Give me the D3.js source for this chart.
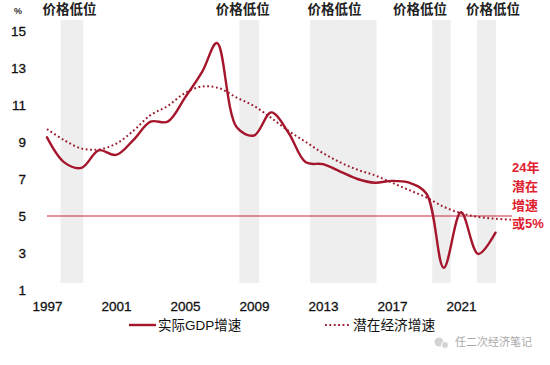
<!DOCTYPE html>
<html>
<head>
<meta charset="utf-8">
<script src="https://cdn.jsdelivr.net/npm/d3@7"></script>
<style>
  html, body { margin: 0; padding: 0; background: #fff; }
  svg { display: block; font-family: "Liberation Sans", "Noto Sans CJK SC", sans-serif; }
</style>
</head>
<body>
<svg id="chart"></svg>
<script>
// values
const gdp_years = [1997,1998,1999,2000,2001,2002,2003,2004,2005,2006,2006.85,2008,2009,2010,2011,2012,2013,2014,2015,2016,2017,2018,2019,2020,2021,2022,2023];
const gdp_values = [9.25,7.9,7.6,8.55,8.3,9.1,10.1,10.1,11.4,12.8,14.35,9.8,9.35,10.6,9.5,7.9,7.8,7.4,7.0,6.8,6.9,6.8,6.2,2.2,5.2,2.95,4.1];
const potential_years = [1997,1998,1999,2000,2001,2002,2003,2004,2005,2006,2007,2008,2009,2010,2011,2012,2013,2014,2015,2016,2017,2018,2019,2020,2021,2022,2023,2024];
const potential_values = [9.7,9.1,8.65,8.6,8.9,9.6,10.45,10.95,11.65,12.0,11.9,11.4,10.95,10.3,9.6,9.0,8.4,7.9,7.5,7.2,6.8,6.4,6.0,5.5,5.15,4.95,4.85,4.8];
const low_price_bands = [[1997.78,1999.1],[2008.15,2009.3],[2012.25,2016.1],[2019.33,2020.4],[2021.93,2023.03]];
const low_price_label_years = [1998.3,2008.35,2013.67,2018.62,2022.86];
const low_price_label = "价格低位";
const y_ticks = [1,3,5,7,9,11,13,15];
const x_ticks = [1997,2001,2005,2009,2013,2017,2021];
const trend_level = 5;
const trend_note = ["24年","潜在","增速","或5%"];

const width = 550, height = 365;
const svg = d3.select("#chart").attr("width", width).attr("height", height);

const x = d3.scaleLinear().domain([1997, 2021]).range([47, 461]);
const y = d3.scaleLinear().domain([1, 15]).range([290, 31]);

// grey bands go behind everything
svg.append("g").selectAll("rect").data(low_price_bands).join("rect")
  .attr("x", d => x(d[0]))
  .attr("width", d => x(d[1]) - x(d[0]))
  .attr("y", 20)
  .attr("height", 263)
  .attr("fill", "#eeeeee");

svg.append("g").selectAll("text").data(low_price_label_years).join("text")
  .attr("x", d => x(d))
  .attr("y", 14)
  .attr("text-anchor", "middle")
  .attr("font-size", 13.5)
  .attr("font-weight", "bold")
  .attr("fill", "#222")
  .text(low_price_label);

const yaxis = svg.append("g")
  .attr("transform", "translate(26,0)")
  .call(d3.axisLeft(y).tickValues(y_ticks).tickSize(0).tickPadding(0).tickFormat(d3.format("d")));
const xaxis = svg.append("g")
  .attr("transform", "translate(0,298)")
  .call(d3.axisBottom(x).tickValues(x_ticks).tickSize(0).tickFormat(d3.format("d")));
[yaxis, xaxis].forEach(a => {
  a.select(".domain").remove();
  a.selectAll("text")
    .attr("font-size", 13.5)
    .attr("font-family", "inherit")
    .attr("fill", "#111")
    .attr("stroke", "#111")
    .attr("stroke-width", 0.3);
});

svg.append("text").attr("x", 18).attr("y", 14)
  .attr("text-anchor", "middle").attr("font-size", 9).attr("font-weight", "bold").attr("fill", "#333")
  .text("%");

svg.append("line")
  .attr("x1", 47).attr("x2", 512)
  .attr("y1", y(trend_level)).attr("y2", y(trend_level))
  .attr("stroke", "#c8283c").attr("stroke-width", 1);

const line_spec = (years, values) => d3.line()
  .x((d, i) => x(years[i]))
  .y(d => y(d))
  .curve(d3.curveCatmullRom.alpha(0.5))(values);

svg.append("path")
  .attr("d", line_spec(potential_years, potential_values))
  .attr("fill", "none")
  .attr("stroke", "#9c1c2e")
  .attr("stroke-width", 2)
  .attr("stroke-dasharray", "1.8 2.6");

svg.append("path")
  .attr("d", line_spec(gdp_years, gdp_values))
  .attr("fill", "none")
  .attr("stroke", "#a5152b")
  .attr("stroke-width", 2.4)
  .attr("stroke-linejoin", "round")
  .attr("stroke-linecap", "round");

svg.append("g").selectAll("text").data(trend_note).join("text")
  .attr("x", 512)
  .attr("y", (d, i) => 172 + i * 18.8)
  .attr("font-size", 13)
  .attr("font-weight", "bold")
  .attr("fill", "#e0202f")
  .text(d => d);

// legend
svg.append("line").attr("x1", 129).attr("x2", 156).attr("y1", 325).attr("y2", 325)
  .attr("stroke", "#a5152b").attr("stroke-width", 2.4);
svg.append("text").attr("x", 158).attr("y", 330).attr("font-size", 13.5).attr("fill", "#111").text("实际GDP增速");
svg.append("line").attr("x1", 325).attr("x2", 350).attr("y1", 325).attr("y2", 325)
  .attr("stroke", "#9c1c2e").attr("stroke-width", 2).attr("stroke-dasharray", "1.8 2.6");
svg.append("text").attr("x", 353).attr("y", 330).attr("font-size", 13.7).attr("fill", "#111").text("潜在经济增速");

// watermark
const mark = svg.append("g").attr("fill", "#d4d4d4");
mark.append("circle").attr("cx", 439).attr("cy", 342).attr("r", 4.5);
mark.append("circle").attr("cx", 445).attr("cy", 345).attr("r", 3.5).attr("stroke", "#fff");
svg.append("text").attr("x", 455).attr("y", 346).attr("font-size", 11).attr("fill", "#aaa").text("任二次经济笔记");
</script>
</body>
</html>
